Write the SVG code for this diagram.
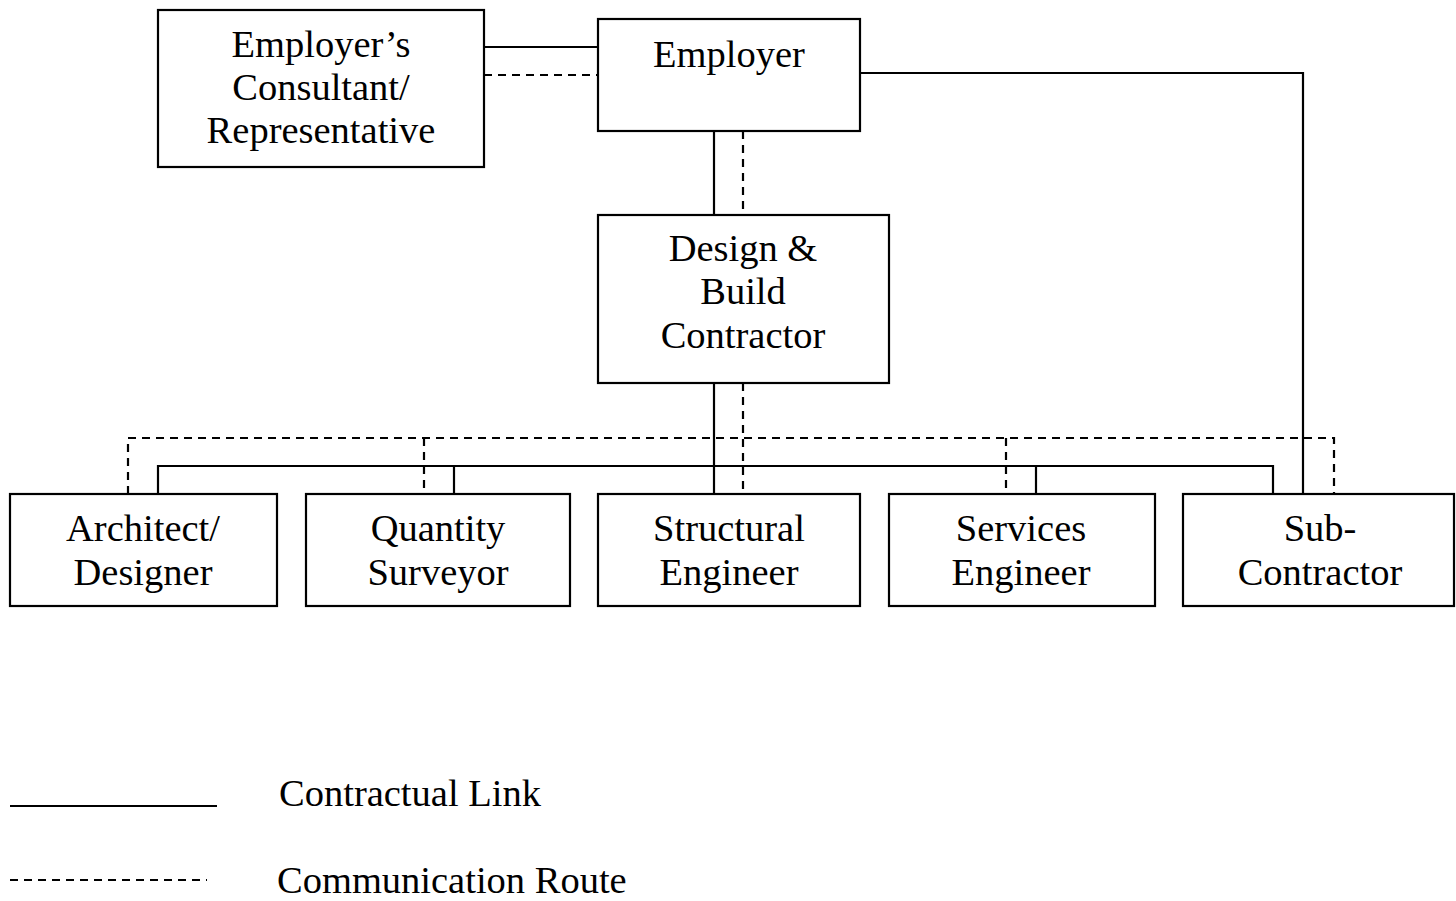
<svg xmlns="http://www.w3.org/2000/svg" width="1456" height="901" viewBox="0 0 1456 901">
<style>
.box{fill:#fff;stroke:#000;stroke-width:2.2}
.t{font-family:"Liberation Serif","Times New Roman",serif;font-size:38.5px;fill:#000;text-anchor:middle}
.tl{font-family:"Liberation Serif","Times New Roman",serif;font-size:38.5px;fill:#000}
.s{fill:none;stroke:#000;stroke-width:2.2}
.d{fill:none;stroke:#000;stroke-width:2.2;stroke-dasharray:8 6}
</style>
<rect width="1456" height="901" fill="#fff"/>
<g id="connectors">
<line class="s" x1="484" y1="47" x2="598" y2="47"/>
<line class="d" x1="484" y1="75" x2="598" y2="75"/>
<polyline class="s" points="860,73 1303,73 1303,494"/>
<line class="s" x1="714" y1="131" x2="714" y2="215"/>
<line class="d" x1="743" y1="131" x2="743" y2="215"/>
<line class="s" x1="714" y1="383" x2="714" y2="494"/>
<line class="d" x1="743" y1="383" x2="743" y2="494"/>
<polyline class="d" points="128,494 128,438 1334,438 1334,494"/>
<line class="d" x1="424" y1="438" x2="424" y2="494"/>
<line class="d" x1="1006" y1="438" x2="1006" y2="494"/>
<polyline class="s" points="158,494 158,466 1273,466 1273,494"/>
<line class="s" x1="454" y1="466" x2="454" y2="494"/>
<line class="s" x1="1036" y1="466" x2="1036" y2="494"/>
</g>
<g id="consultant">
<rect class="box" x="158" y="10" width="326" height="157"/>
<text class="t" x="321" y="57">Employer’s</text>
<text class="t" x="321" y="100">Consultant/</text>
<text class="t" x="321" y="143">Representative</text>
</g>
<g id="employer">
<rect class="box" x="598" y="19" width="262" height="112"/>
<text class="t" x="729" y="67">Employer</text>
</g>
<g id="contractor">
<rect class="box" x="598" y="215" width="291" height="168"/>
<text class="t" x="743" y="261">Design &amp;</text>
<text class="t" x="743" y="304">Build</text>
<text class="t" x="743" y="348">Contractor</text>
</g>
<g id="architect">
<rect class="box" x="10" y="494" width="267" height="112"/>
<text class="t" x="143" y="541">Architect/</text>
<text class="t" x="143" y="585">Designer</text>
</g>
<g id="qs">
<rect class="box" x="306" y="494" width="264" height="112"/>
<text class="t" x="438" y="541">Quantity</text>
<text class="t" x="438" y="585">Surveyor</text>
</g>
<g id="structural">
<rect class="box" x="598" y="494" width="262" height="112"/>
<text class="t" x="729" y="541">Structural</text>
<text class="t" x="729" y="585">Engineer</text>
</g>
<g id="services">
<rect class="box" x="889" y="494" width="266" height="112"/>
<text class="t" x="1021" y="541">Services</text>
<text class="t" x="1021" y="585">Engineer</text>
</g>
<g id="subcontractor">
<rect class="box" x="1183" y="494" width="271" height="112"/>
<text class="t" x="1320" y="541">Sub-</text>
<text class="t" x="1320" y="585">Contractor</text>
</g>
<g id="legend">
<line class="s" x1="10" y1="806" x2="217" y2="806"/>
<text class="tl" x="279" y="806">Contractual Link</text>
<line class="d" x1="10" y1="880" x2="207" y2="880"/>
<text class="tl" x="277" y="893">Communication Route</text>
</g>
</svg>
